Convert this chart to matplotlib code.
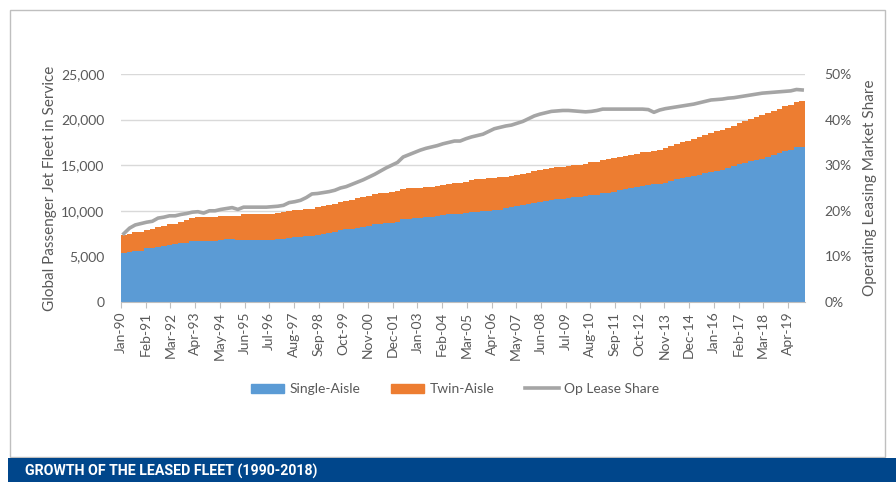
import numpy as np
import matplotlib
matplotlib.use("Agg")
import matplotlib.pyplot as plt
from matplotlib.ticker import FuncFormatter, PercentFormatter
from matplotlib.lines import Line2D
from matplotlib.patches import Patch, Rectangle

plt.rcParams['font.family'] = ['Lato', 'DejaVu Sans']

# quarterly data, Q1-1990 .. Q4-2019 (fleet in thousands, share in %)
single_aisle = [
    5.35, 5.5, 5.6, 5.6,     5.9, 5.9, 6.05, 6.1,     6.3, 6.35, 6.45, 6.5,
    6.7, 6.7, 6.7, 6.7,      6.7, 6.85, 6.9, 6.9,     6.8, 6.8, 6.8, 6.8,
    6.8, 6.8, 6.85, 6.9,     6.95, 7.05, 7.1, 7.1,    7.2, 7.25, 7.35, 7.45,
    7.55, 7.7, 7.9, 7.95,    8.05, 8.15, 8.25, 8.3,   8.5, 8.6, 8.65, 8.7,
    8.8, 9.1, 9.15, 9.2,     9.25, 9.3, 9.3, 9.45,    9.55, 9.6, 9.65, 9.7,
    9.8, 9.85, 9.9, 9.95,    10.0, 10.05, 10.1, 10.3, 10.45, 10.55, 10.65, 10.75,
    10.9, 11.0, 11.05, 11.15, 11.25, 11.3, 11.45, 11.5, 11.5, 11.6, 11.7, 11.76,
    11.9, 12.0, 12.1, 12.25, 12.35, 12.5, 12.6, 12.7, 12.8, 12.9, 12.97, 13.1,
    13.3, 13.45, 13.6, 13.7, 13.85, 13.95, 14.1, 14.2, 14.35, 14.5, 14.7, 14.9,
    15.1, 15.25, 15.45, 15.6, 15.7, 15.9, 16.1, 16.3, 16.55, 16.7, 16.95, 16.95,
]
twin_aisle = [
    2.01, 2.0, 2.06, 2.1,    1.95, 2.05, 2.15, 2.2,   2.2, 2.25, 2.35, 2.45,
    2.5, 2.57, 2.6, 2.67,    2.67, 2.57, 2.55, 2.55,  2.6, 2.8, 2.82, 2.84,
    2.84, 2.84, 2.85, 2.9,   2.95, 2.95, 3.0, 3.0,    2.95, 2.95, 3.05, 3.05,
    3.11, 3.1, 3.1, 3.15,    3.15, 3.2, 3.25, 3.3,    3.3, 3.3, 3.35, 3.4,
    3.4, 3.3, 3.3, 3.3,      3.3, 3.3, 3.3, 3.3,      3.3, 3.35, 3.4, 3.4,
    3.4, 3.55, 3.55, 3.55,   3.6, 3.6, 3.6, 3.45,     3.4, 3.4, 3.4, 3.4,
    3.5, 3.5, 3.5, 3.5,      3.5, 3.55, 3.5, 3.5,     3.55, 3.55, 3.6, 3.64,
    3.7, 3.7, 3.7, 3.65,     3.62, 3.65, 3.65, 3.7,   3.7, 3.7, 3.73, 3.8,
    3.8, 3.85, 3.9, 3.95,    4.05, 4.15, 4.2, 4.3,    4.35, 4.4, 4.4, 4.45,
    4.5, 4.6, 4.6, 4.7,      4.75, 4.8, 4.85, 4.9,    4.9, 4.9, 4.95, 5.05,
]
op_lease_share = [
    15.0, 16.2, 16.9, 17.2,  17.5, 17.7, 18.4, 18.6,  18.9, 18.9, 19.2, 19.4,
    19.7, 19.8, 19.5, 20.0,  20.0, 20.3, 20.5, 20.7,  20.3, 20.8, 20.8, 20.8,
    20.8, 20.8, 20.9, 21.0,  21.2, 21.8, 22.0, 22.3,  22.9, 23.7, 23.8, 24.0,
    24.2, 24.5, 25.0, 25.3,  25.8, 26.3, 26.8, 27.4,  28.0, 28.7, 29.4, 30.0,
    30.6, 31.8, 32.3, 32.8,  33.3, 33.7, 34.0, 34.3,  34.7, 35.0, 35.3, 35.3,
    35.8, 36.2, 36.5, 36.8,  37.4, 38.0, 38.3, 38.6,  38.8, 39.2, 39.6, 40.2,
    40.8, 41.2, 41.5, 41.8,  41.9, 42.0, 42.0, 41.9,  41.8, 41.7, 41.8, 42.0,
    42.3, 42.3, 42.3, 42.3,  42.3, 42.3, 42.3, 42.3,  42.2, 41.6, 42.1, 42.4,
    42.6, 42.8, 43.0, 43.2,  43.4, 43.7, 44.0, 44.3,  44.4, 44.5, 44.7, 44.8,
    45.0, 45.2, 45.4, 45.6,  45.8, 45.9, 46.0, 46.1,  46.2, 46.3, 46.6, 46.5,
]
tick_labels = ['Jan-90', 'Feb-91', 'Mar-92', 'Apr-93', 'May-94', 'Jun-95', 'Jul-96',
               'Aug-97', 'Sep-98', 'Oct-99', 'Nov-00', 'Dec-01', 'Jan-03', 'Feb-04',
               'Mar-05', 'Apr-06', 'May-07', 'Jun-08', 'Jul-09', 'Aug-10', 'Sep-11',
               'Oct-12', 'Nov-13', 'Dec-14', 'Jan-16', 'Feb-17', 'Mar-18', 'Apr-19']

single = np.array(single_aisle) * 1000
twin = np.array(twin_aisle) * 1000
share = np.array(op_lease_share) / 100
xq = np.arange(len(single)) * 3  # month index of each quarter

blue = '#5B9BD5'
orange = '#ED7D31'
grey = '#A5A5A5'
txt = '#595959'

fig = plt.figure(figsize=(8.96, 4.82), dpi=100)

# outer frame + banner
fig.add_artist(Rectangle((10 / 896, 1 - 457 / 482), 875 / 896, 447 / 482, transform=fig.transFigure,
                         fill=False, edgecolor='#BFBFBF', lw=1))
fig.add_artist(Rectangle((8 / 896, 0), 888 / 896, 24 / 482, transform=fig.transFigure,
                         facecolor='#00468B', edgecolor='none'))
fig.text(25 / 896, 11 / 482, 'GROWTH OF THE LEASED FLEET (1990-2018)', color='white',
         fontsize=10.2, fontweight='bold', va='center', ha='left',
         family=['Roboto', 'DejaVu Sans'])

ax = fig.add_axes([121 / 896, 1 - 302 / 482, 684 / 896, 228 / 482])
ax.bar(xq, single, width=3, align='edge', color=blue, lw=0, zorder=2)
ax.bar(xq, twin, width=3, align='edge', bottom=single, color=orange, lw=0, zorder=2)
ax.set_xlim(0, 360)
ax.set_ylim(0, 25000)
ax.set_yticks(np.arange(0, 25001, 5000))
ax.yaxis.set_major_formatter(FuncFormatter(lambda v, p: f'{v:,.0f}'))
ax.grid(axis='y', color='#D9D9D9', lw=1, zorder=0)
ax.set_axisbelow(True)
ax.set_xticks(np.arange(0, 360, 13))
ax.set_xticklabels(tick_labels, rotation=90, fontsize=10, color=txt)
ax.tick_params(axis='x', length=4, color='#BFBFBF', pad=3)
ax.tick_params(axis='y', length=0, labelsize=10, labelcolor=txt, pad=12)
for s in ['top', 'right', 'left']:
    ax.spines[s].set_visible(False)
ax.spines['bottom'].set_color('#BFBFBF')
ax.set_ylabel('Global Passenger Jet Fleet in Service', fontsize=11, color=txt, labelpad=3)

ax2 = ax.twinx()
ax2.plot(xq + 1.5, share, color=grey, lw=2.6, zorder=3)
ax2.set_ylim(0, 0.5)
ax2.set_yticks(np.arange(0, 0.51, 0.1))
ax2.yaxis.set_major_formatter(PercentFormatter(1.0, decimals=0))
ax2.tick_params(axis='y', length=0, labelsize=10, labelcolor=txt, pad=14)
for s in ['top', 'right', 'left', 'bottom']:
    ax2.spines[s].set_visible(False)
ax2.set_ylabel('Operating Leasing Market Share', fontsize=11, color=txt, labelpad=8)

handles = [Patch(color=blue), Patch(color=orange), Line2D([], [], color=grey, lw=2.6)]
fig.legend(handles, ['Single-Aisle', 'Twin-Aisle', 'Op Lease Share'], loc='center',
           bbox_to_anchor=(455 / 896, 1 - 389 / 482), ncol=3, frameon=False,
           fontsize=10, labelcolor=txt, handlelength=2.4, handleheight=0.6,
           columnspacing=2.2, handletextpad=0.4)

fig.savefig('out.png', dpi=100)
